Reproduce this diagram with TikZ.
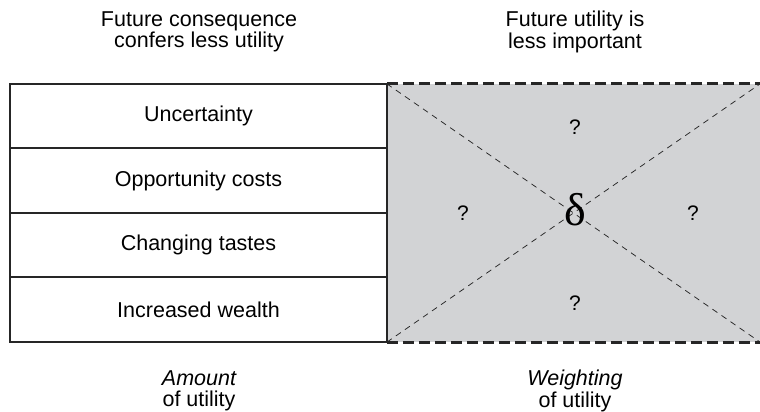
\documentclass[tikz,border=0pt]{standalone}
\usepackage{fontspec}
\setmainfont{Liberation Sans}
\newfontfamily\greekfont{Liberation Serif}
\definecolor{panelgrey}{RGB}{210,211,213}

\begin{document}
\begin{tikzpicture}[
    x=1pt, y=1pt,
    row/.style={
        draw=black!85,
        line width=2pt,
        minimum width=377pt,
        minimum height=64.5pt,
        inner sep=0pt,
        font=\fontsize{21.5}{24}\selectfont
    },
    caption/.style={
        align=center,
        font=\fontsize{21.5}{21.5}\selectfont
    },
    query/.style={font=\fontsize{21}{22}\selectfont},
    border/.style={dashed, line width=2.8pt, dash pattern=on 11pt off 5pt, draw=black!85},
    cross/.style={dashed, line width=0.75pt, dash pattern=on 6pt off 5pt, draw=black!85}
]
    \useasboundingbox (0,0) rectangle (760,412);

    % weighting panel
    \node[fill=panelgrey, minimum width=373pt, minimum height=258pt, inner sep=0pt]
        (weights) at (573.5,199) {};
    \draw[cross] (weights.north west) -- (weights.south east);
    \draw[cross] (weights.south west) -- (weights.north east);
    \draw[border] (weights.north west) -- (weights.north east);
    \draw[border] (weights.south west) -- (weights.south east);

    \node[query] (qtop) at (575,285) {?};
    \node[query] (qbottom) at (575,109) {?};
    \node[query] (qleft) at (463,199) {?};
    \node[query] (qright) at (693,199) {?};
    \node[font=\greekfont\fontsize{46}{46}\selectfont, inner sep=0pt]
        (delta) at (575,202) {δ};

    % reasons for less utility
    \node[row] (uncertain) at (198.5,295.75) {Uncertainty};
    \node[row] (opportunity) at (198.5,231.25) {Opportunity costs};
    \node[row] (tastes) at (198.5,166.75) {Changing tastes};
    \node[row] (wealth) at (198.5,102.25) {Increased wealth};

    % headings and footers
    \node[caption] (consequence) at (199,380)
        {Future consequence\\confers less utility};
    \node[caption] (important) at (575,380)
        {Future utility is\\less important};
    \node[caption] (amount) at (199,21)
        {\itshape Amount\\of utility};
    \node[caption] (weighting) at (575,21)
        {\itshape Weighting\\of utility};
\end{tikzpicture}
\end{document}
